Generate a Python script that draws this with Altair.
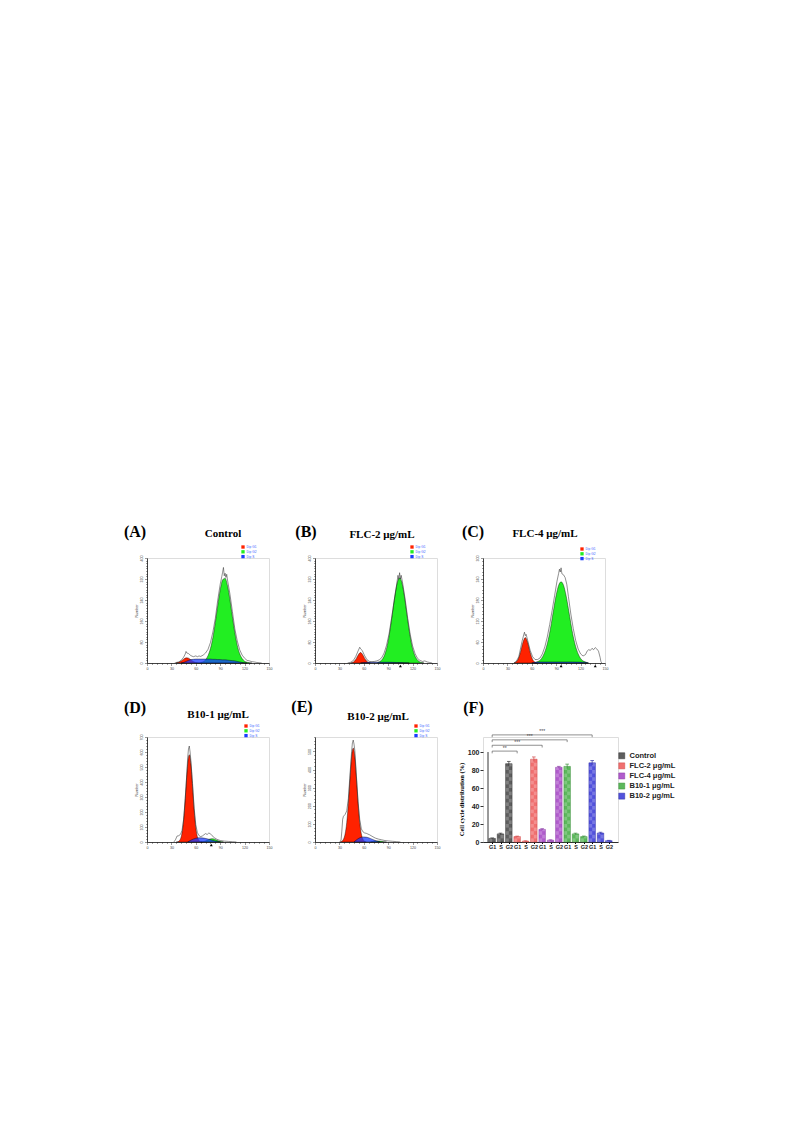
import altair as alt
import pandas as pd

# ---------------- Histogram panels (A)-(E): (channel, Number) ----------------
TITLES = ["Control", "FLC-2 μg/mL", "FLC-4 μg/mL", "B10-1 μg/mL", "B10-2 μg/mL"]
LETTERS = ["(A)", "(B)", "(C)", "(D)", "(E)", "(F)"]
DIP_LABELS = ["Dip G1", "Dip G2", "Dip S"]
DIP_COLORS = ["#ff2200", "#22ee22", "#1a3cff"]
HIST_X_TICKS = [0, 30, 60, 90, 120, 150]

A_RED = [(36, 0.7), (39, 2.7), (42, 7.5), (45, 14.5), (48, 19.6), (51, 18.5), (54, 12), (57, 5.6), (60, 1.8), (63, 0.4), (66, 0)]
A_GREEN = [(66, 2), (69, 5), (72, 12), (75, 28), (78, 55), (81, 97), (84, 154), (87, 219), (90, 278), (93, 317), (96, 323),
           (99, 294), (102, 240), (105, 176), (108, 115), (111, 67), (114, 35), (117, 17), (120, 7), (123, 3), (126, 1), (129, 0)]
A_BLUE = [(42, 0), (45, 2), (48, 6), (51, 10), (54, 13), (57, 14), (60, 15), (63, 15), (66, 15), (69, 15), (72, 15), (75, 15),
          (78, 15), (81, 14), (84, 14), (87, 13), (90, 13), (93, 12), (96, 12), (99, 11), (102, 10), (105, 9), (108, 8),
          (111, 6), (114, 4), (117, 2), (120, 1), (123, 0)]
A_RAW = [(34, 0), (36, 2), (39, 4), (42, 10), (45, 22), (47, 34), (48, 44), (49, 38), (51, 36), (54, 28), (57, 24), (60, 27),
         (62, 24), (64, 27), (66, 25), (69, 30), (72, 38), (75, 52), (78, 78), (81, 118), (84, 170), (87, 240), (90, 300),
         (92, 330), (93, 346), (94, 364), (95, 332), (96, 342), (97, 326), (98, 338), (99, 316), (102, 262), (105, 196),
         (108, 130), (111, 84), (114, 50), (117, 30), (120, 18), (123, 10), (126, 8), (129, 5), (132, 4), (135, 2), (138, 1), (141, 0)]
A_MARKS = []

B_RED = [(44, 0.5), (47, 3), (50, 13), (53, 30), (56, 40), (59, 30), (62, 13), (65, 3), (68, 0.5)]
B_GREEN = [(77, 2), (80, 6), (83, 15), (86, 34), (89, 68), (92, 120), (95, 185), (98, 252), (101, 304), (104, 324), (107, 304),
           (110, 252), (113, 185), (116, 120), (119, 68), (122, 34), (125, 15), (128, 6), (131, 2), (134, 0)]
B_BLUE = [(56, 0), (60, 2), (70, 3), (80, 3), (90, 3), (100, 2), (110, 1), (116, 0)]
B_RAW = [(40, 0), (44, 3), (47, 9), (50, 24), (53, 46), (55, 60), (56, 54), (58, 48), (61, 28), (64, 12), (67, 6), (70, 5),
         (73, 6), (76, 8), (79, 12), (82, 20), (85, 38), (88, 68), (91, 110), (94, 168), (97, 230), (100, 290), (102, 334),
         (103, 318), (104, 344), (105, 320), (106, 334), (108, 300), (111, 240), (114, 170), (117, 110), (120, 65), (123, 36),
         (126, 18), (129, 10), (132, 6), (135, 8), (138, 4), (141, 2), (144, 0)]
B_MARKS = [105]

C_RED = [(38, 0), (40, 2), (43, 10), (46, 30), (49, 58), (52, 73), (55, 58), (58, 30), (61, 10), (64, 2), (66, 0)]
C_GREEN = [(63, 0), (66, 3), (69, 6), (72, 13), (75, 26), (78, 46), (81, 75), (84, 113), (87, 155), (90, 194), (93, 222),
           (96, 232), (99, 222), (102, 194), (105, 155), (108, 113), (111, 75), (114, 46), (117, 26), (120, 13), (123, 6),
           (126, 3), (129, 0)]
C_BLUE = [(60, 0), (64, 2), (70, 3), (90, 3), (110, 3), (125, 2), (130, 0)]
C_RAW = [(38, 0), (41, 5), (44, 18), (46, 40), (48, 62), (50, 80), (51, 88), (52, 78), (53, 82), (55, 64), (58, 36), (61, 18),
         (64, 10), (67, 10), (70, 14), (73, 26), (76, 46), (79, 74), (82, 110), (85, 150), (88, 192), (91, 234), (93, 256),
         (94, 268), (95, 260), (96, 272), (97, 255), (99, 252), (101, 244), (103, 225), (105, 190), (108, 140), (111, 98),
         (114, 64), (117, 40), (120, 26), (123, 20), (126, 24), (128, 34), (130, 38), (132, 36), (134, 42), (136, 38),
         (138, 44), (140, 40), (142, 34), (144, 16), (145, 4), (146, 0)]
C_MARKS = [96, 138]

D_RED = [(36, 0), (38, 2), (40, 10), (42, 34), (44, 95), (46, 210), (48, 370), (50, 520), (52, 582), (54, 520), (56, 370),
         (58, 210), (60, 95), (62, 34), (64, 10), (66, 2), (68, 0)]
D_GREEN = [(66, 0), (68, 1), (71, 5), (74, 11), (77, 19), (80, 22), (83, 19), (86, 11), (89, 5), (92, 1), (94, 0)]
D_BLUE = [(50, 0), (55, 15), (60, 25), (65, 28), (70, 26), (75, 20), (80, 12), (85, 5), (90, 0)]
D_RAW = [(33, 0), (35, 15), (37, 40), (39, 42), (41, 50), (43, 75), (45, 150), (47, 290), (49, 460), (50, 560), (51, 620),
         (52, 640), (53, 600), (54, 540), (56, 390), (58, 225), (60, 115), (62, 62), (64, 42), (66, 36), (68, 40), (70, 48),
         (72, 56), (74, 50), (76, 60), (78, 55), (80, 42), (83, 28), (86, 18), (90, 10), (95, 6), (100, 4), (105, 2), (110, 0)]
D_MARKS = [79]

E_RED = [(31, 0), (33, 4), (35, 15), (37, 44), (39, 107), (41, 213), (43, 349), (45, 470), (47, 519), (49, 470), (51, 349),
         (53, 213), (55, 107), (57, 44), (59, 15), (61, 4), (63, 0)]
E_GREEN = [(68, 0), (72, 4), (76, 6), (80, 5), (84, 2), (88, 0)]
E_BLUE = [(48, 0), (52, 15), (56, 25), (60, 28), (64, 26), (68, 20), (72, 12), (76, 5), (80, 0)]
E_RAW = [(30, 0), (32, 8), (33, 60), (34, 125), (35, 142), (37, 152), (39, 172), (41, 240), (43, 370), (45, 500), (46, 548),
         (47, 563), (48, 540), (49, 505), (51, 360), (53, 222), (55, 125), (57, 72), (59, 56), (61, 50), (63, 48), (65, 44),
         (67, 40), (70, 32), (74, 22), (78, 16), (82, 12), (86, 8), (90, 6), (95, 4), (100, 2), (105, 0)]
E_MARKS = []

# ---------------- Panel (F): cell cycle distribution (%) ----------------
GROUPS = ["Control", "FLC-2 μg/mL", "FLC-4 μg/mL", "B10-1 μg/mL", "B10-2 μg/mL"]
PHASES = ["G1", "S", "G2"]
F_CONTROL = [4, 9, 87]
F_FLC2 = [6, 1, 92]
F_FLC4 = [14, 2, 83]
F_B101 = [84, 9, 6]
F_B102 = [88, 10, 1.5]
F_CONTROL_ERR = [0.5, 0.8, 2.5]
F_FLC2_ERR = [0.5, 0.3, 2.5]
F_FLC4_ERR = [0.8, 0.4, 1.0]
F_B101_ERR = [2.5, 0.8, 0.6]
F_B102_ERR = [2.5, 0.8, 0.3]
F_FILL = ["#5e5e5e", "#f07070", "#b05ccc", "#5cb85c", "#5252dc"]
F_EDGE = ["#333333", "#d04848", "#8a3aa6", "#3a8f3a", "#3030a8"]
BRACKET_END = [3, 6, 9, 12]
BRACKET_LEVEL = [101, 107.5, 113.5, 119]
BRACKET_LABEL = ["**", "***", "***", "***"]
CHECK_STEP = 4  # height (in %) of one square of the bars' checker texture

SERIF = "Liberation Serif"
SANS = "Liberation Sans"
HW, HH = 122, 105


def pts_df(pts, name):
    df = pd.DataFrame(pts, columns=["x", "y"])
    df["series"] = name
    return df


def cond(test, a, b):
    return {"condition": {"test": test, "value": a}, "value": b}


def hist_panel(red, green, blue, raw, marks, ymax, ymajor, yminor, title, tpos, letter, lpos, legpos):
    xs = alt.Scale(domain=[0, 150], nice=False, zero=False)
    ys = alt.Scale(domain=[0, ymax], nice=False)
    cs = alt.Scale(domain=DIP_LABELS, range=DIP_COLORS)
    leg = alt.Legend(orient="none", legendX=legpos[0], legendY=legpos[1], title=None, symbolType="square",
                     symbolSize=11, symbolStrokeWidth=0, labelFontSize=3.2, labelColor="#3a5cff", labelFont=SANS,
                     rowPadding=0.8, labelOffset=1.5, padding=0, labelLimit=0)
    xaxis = alt.Axis(values=list(range(0, 151, 6)),
                     labelExpr="indexof([" + ",".join(str(v) for v in HIST_X_TICKS) + "], datum.value) >= 0 ? datum.label : ''",
                     tickSize=cond("datum.value % 30 === 0", 2.5, 1.4), labelFontSize=3.6, labelColor="#444",
                     labelPadding=1, domainColor="black", domainWidth=0.7, tickColor="black", tickWidth=0.4,
                     title=None, grid=False, labelFlush=False, labelOverlap=False, labelFont=SANS)
    yaxis = alt.Axis(values=list(range(0, ymax + 1, yminor)),
                     labelExpr="datum.value % " + str(ymajor) + " === 0 ? datum.label : ''",
                     tickSize=cond("datum.value % " + str(ymajor) + " === 0", 2.5, 1.4), labelFontSize=3.6,
                     labelColor="#444", labelAngle=270, labelAlign="center", labelBaseline="bottom", labelPadding=1,
                     domainColor="black", domainWidth=0.7, tickColor="black", tickWidth=0.4, title="Number",
                     titleFontSize=3.6, titleFontWeight="normal", titleColor="#333", titlePadding=1.5, titleFont=SANS,
                     grid=False, labelFlush=False, labelOverlap=False, labelFont=SANS)
    X = alt.X("x:Q", scale=xs, axis=xaxis)
    Y = alt.Y("y:Q", scale=ys, axis=yaxis)
    layers = []
    for name, pts, op in [(DIP_LABELS[1], green, 1.0), (DIP_LABELS[0], red, 1.0), (DIP_LABELS[2], blue, 0.75)]:
        layers.append(
            alt.Chart(pts_df(pts, name)).mark_area(interpolate="monotone", stroke="black", strokeWidth=0.4, fillOpacity=op)
            .encode(x=X, y=Y, color=alt.Color("series:N", scale=cs, legend=leg))
        )
    layers.append(alt.Chart(pts_df(raw, "raw")).mark_line(color="#222", strokeWidth=0.5).encode(x=X, y=Y))
    if marks:
        layers.append(
            alt.Chart(pd.DataFrame({"x": marks, "y": [0] * len(marks)}))
            .mark_point(shape="triangle-up", filled=True, size=9, color="black", opacity=1, yOffset=3)
            .encode(x=X, y=Y)
        )
    layers.append(
        alt.Chart(pd.DataFrame({"t": [title]})).mark_text(font=SERIF, fontWeight="bold", fontSize=11, baseline="middle",
                                                          align="center", color="black")
        .encode(text="t:N", x=alt.value(tpos[0]), y=alt.value(tpos[1]))
    )
    layers.append(
        alt.Chart(pd.DataFrame({"t": [letter]})).mark_text(font=SERIF, fontWeight="bold", fontSize=16, baseline="middle",
                                                           align="center", color="black")
        .encode(text="t:N", x=alt.value(lpos[0]), y=alt.value(lpos[1]))
    )
    return alt.layer(*layers).properties(width=HW, height=HH)


A = hist_panel(A_RED, A_GREEN, A_BLUE, A_RAW, A_MARKS, 400, 80, 10, TITLES[0], (76, -24), LETTERS[0], (-12, -26), (94, -13))
B = hist_panel(B_RED, B_GREEN, B_BLUE, B_RAW, B_MARKS, 400, 80, 10, TITLES[1], (67, -23), LETTERS[1], (-9, -26), (95, -13))
C = hist_panel(C_RED, C_GREEN, C_BLUE, C_RAW, C_MARKS, 300, 60, 10, TITLES[2], (62, -24), LETTERS[2], (-10, -26), (97, -11))
D = hist_panel(D_RED, D_GREEN, D_BLUE, D_RAW, D_MARKS, 700, 100, 20, TITLES[3], (71, -22), LETTERS[3], (-12, -29), (97, -13))
E = hist_panel(E_RED, E_GREEN, E_BLUE, E_RAW, E_MARKS, 580, 100, 20, TITLES[4], (63, -20), LETTERS[4], (-13, -30), (99, -13))

# ---- panel F ----
FW = 135
values = [F_CONTROL, F_FLC2, F_FLC4, F_B101, F_B102]
errs = [F_CONTROL_ERR, F_FLC2_ERR, F_FLC4_ERR, F_B101_ERR, F_B102_ERR]
rows = []
checks = []
for gi, g in enumerate(GROUPS):
    for pi, ph in enumerate(PHASES):
        v, e = values[gi][pi], errs[gi][pi]
        pos = gi * 3 + pi
        rows.append({"pos": pos, "group": g, "phase": ph, "value": v, "lo": max(v - e, 0), "hi": v + e,
                     "xl": pos - 0.22, "xr": pos + 0.22})
        k = 0
        while k * CHECK_STEP < v - 0.5:
            checks.append({"pos": pos, "side": k % 2, "b": k * CHECK_STEP, "t": min((k + 1) * CHECK_STEP, v)})
            k += 1
fdf = pd.DataFrame(rows)
cdf = pd.DataFrame(checks)

fx = alt.Scale(domain=[-0.5, 14.5], nice=False, zero=False)
fy = alt.Scale(domain=[0, 116.67], nice=False)
fill_scale = alt.Scale(domain=GROUPS, range=F_FILL)
edge_scale = alt.Scale(domain=GROUPS, range=F_EDGE)
phase_expr = "[" + ",".join("'" + p + "'" for p in PHASES) + "][datum.value % 3]"

fxaxis = alt.Axis(values=list(range(15)), labelExpr=phase_expr, title=None, labelFont=SANS, labelFontWeight="bold",
                  labelFontSize=5.5, labelColor="#222", tickSize=1.5, tickColor="black", domainColor="black",
                  domainWidth=0.8, labelPadding=1, grid=False, labelOverlap=False, labelFlush=False)
fyaxis = alt.Axis(values=[0, 20, 40, 60, 80, 100], title="Cell cycle distribution (%)", titleFont=SERIF,
                  titleFontWeight="bold", titleFontSize=6.5, titleColor="black", titlePadding=3, titleY=62,
                  labelFont=SANS, labelFontWeight="bold", labelFontSize=7, labelColor="#222", tickSize=3,
                  tickColor="black", tickWidth=0.8, domain=False, labelPadding=1, grid=False)
fleg = alt.Legend(orient="none", legendX=135, legendY=15, title=None, symbolType="square", symbolSize=36,
                  symbolStrokeWidth=0.5, symbolStrokeColor="#333", labelFont=SANS, labelFontWeight="bold",
                  labelFontSize=7.5, labelColor="#222", rowPadding=1.1, labelOffset=4, padding=0, labelLimit=0)


def FX(field):
    return alt.X(field, scale=fx, axis=fxaxis)


def FY(field):
    return alt.Y(field, scale=fy, axis=fyaxis)


f_bars = alt.Chart(fdf).mark_bar(size=6.5, strokeWidth=0.5).encode(
    x=FX("pos:Q"), y=FY("value:Q"),
    color=alt.Color("group:N", scale=fill_scale, legend=fleg),
    stroke=alt.Stroke("group:N", scale=edge_scale, legend=None))
f_check_l = alt.Chart(cdf).transform_filter("datum.side === 0").mark_bar(
    size=3, color="white", opacity=0.22, xOffset=-1.5).encode(x=FX("pos:Q"), y=FY("b:Q"), y2="t:Q")
f_check_r = alt.Chart(cdf).transform_filter("datum.side === 1").mark_bar(
    size=3, color="white", opacity=0.22, xOffset=1.5).encode(x=FX("pos:Q"), y=FY("b:Q"), y2="t:Q")
f_axisline = alt.Chart(pd.DataFrame({"x": [-0.5], "y0": [0], "y1": [100]})).mark_rule(color="black", strokeWidth=0.8).encode(
    x=FX("x:Q"), y=FY("y0:Q"), y2="y1:Q")
f_err = alt.Chart(fdf).mark_rule(strokeWidth=0.7).encode(
    x=FX("pos:Q"), y=FY("lo:Q"), y2="hi:Q",
    stroke=alt.Stroke("group:N", scale=edge_scale, legend=None))
f_cap = alt.Chart(fdf).mark_rule(strokeWidth=0.7).encode(
    x=FX("xl:Q"), x2="xr:Q", y=FY("hi:Q"),
    stroke=alt.Stroke("group:N", scale=edge_scale, legend=None))

bdf = pd.DataFrame({"x0": [0] * len(BRACKET_END), "x1": BRACKET_END, "level": BRACKET_LEVEL, "label": BRACKET_LABEL})
bdf["xm"] = (bdf["x0"] + bdf["x1"]) / 2
bdf["low"] = bdf["level"] - 2.5
bends = pd.concat([bdf[["x0", "level", "low"]].rename(columns={"x0": "x"}),
                   bdf[["x1", "level", "low"]].rename(columns={"x1": "x"})])
f_bh = alt.Chart(bdf).mark_rule(color="#444", strokeWidth=0.6).encode(x=FX("x0:Q"), x2="x1:Q", y=FY("level:Q"))
f_bv = alt.Chart(bends).mark_rule(color="#444", strokeWidth=0.6).encode(x=FX("x:Q"), y=FY("level:Q"), y2="low:Q")
f_bt = alt.Chart(bdf).mark_text(font=SANS, fontSize=5, color="#444", baseline="bottom", dy=-0.5).encode(
    x=FX("xm:Q"), y=FY("level:Q"), text="label:N")
f_letter = alt.Chart(pd.DataFrame({"t": [LETTERS[5]]})).mark_text(font=SERIF, fontWeight="bold", fontSize=16,
                                                                   baseline="middle", align="center", color="black").encode(
    text="t:N", x=alt.value(-9.5), y=alt.value(-29))

F = alt.layer(f_bars, f_check_l, f_check_r, f_axisline, f_err, f_cap, f_bh, f_bv, f_bt, f_letter).properties(
    width=FW, height=HH)

chart = alt.concat(A, B, C, D, E, F, columns=3, spacing={"row": 74, "column": 46}, bounds="flush").resolve_scale(
    color="independent", stroke="independent"
).properties(
    padding={"left": 115, "top": 515, "right": 5, "bottom": 5}
).configure_view(strokeWidth=0, stroke="transparent").configure(background="white")

chart.save("out.html", embed_options={"renderer": "svg", "actions": False})
